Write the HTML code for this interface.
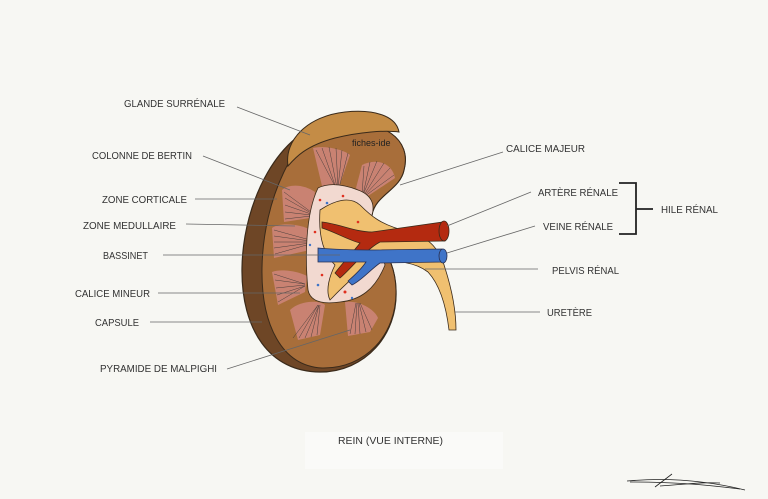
<!DOCTYPE html>
<html><head><meta charset="utf-8"><style>
html,body{margin:0;padding:0;background:#f7f7f3;}
svg{display:block}
text{font-family:"Liberation Sans Narrow","Liberation Sans",sans-serif;font-size:10.5px;fill:#333;}
</style></head><body>
<svg width="768" height="499" viewBox="0 0 768 499" xmlns="http://www.w3.org/2000/svg">
<rect width="768" height="499" fill="#f7f7f3"/>
<rect x="305" y="432" width="198" height="37" fill="#fafaf8"/>
<!-- kidney shadow -->
<path d="M330 122 C280 130 243 200 242 268 C241 330 270 372 320 372 C365 372 398 335 396 290 C395 250 370 240 372 215 C375 195 400 190 404 170 C412 140 385 118 330 122 Z" fill="#6e4626" stroke="#3a2a1a" stroke-width="1.2"/>
<!-- kidney front -->
<path d="M333 123 C295 130 263 200 262 268 C261 325 282 366 322 368 C365 369 397 335 396 290 C395 250 370 240 372 215 C375 195 400 190 404 170 C412 140 385 118 333 123 Z" fill="#a86e3a" stroke="#3a2a1a" stroke-width="1"/>
<!-- adrenal -->
<path d="M288 166 C284 140 308 116 345 112 C375 109 396 116 399 132 C385 130 360 132 335 138 C305 146 295 158 288 166 Z" fill="#c48c46" stroke="#3a2a1a" stroke-width="1"/>
<text x="352" y="146" style="font-size:9px;fill:#222">fiches-ide</text>
<!-- pyramids -->
<g fill="#c98272">
<path d="M313 148 C325 145 345 150 350 155 L338 190 L322 186 Z"/>
<path d="M362 165 C375 158 392 162 395 178 L365 198 L356 188 Z"/>
<path d="M282 190 C290 183 305 185 315 192 L310 218 L284 222 Z"/>
<path d="M272 228 C280 222 300 224 311 230 L310 250 L274 258 Z"/>
<path d="M272 272 C282 268 300 272 307 276 L305 292 L278 305 Z"/>
<path d="M290 310 C300 300 320 300 325 305 L320 335 L298 340 Z"/>
<path d="M345 302 C360 300 375 310 378 318 L370 332 L348 336 Z"/>
</g>
<g stroke="#333" stroke-width="0.5" fill="none" opacity="0.85">
<path d="M316 150 L336 188 M322 148 L336 188 M329 147 L337 188 M336 148 L338 188 M342 150 L338 188 M348 153 L339 188"/>
<path d="M364 166 L362 195 M370 162 L363 195 M377 161 L363 195 M384 163 L364 195 M390 168 L364 196 M394 175 L365 196"/>
<path d="M284 192 L311 212 M285 198 L311 213 M285 205 L311 214 M285 212 L311 215 M285 219 L311 216"/>
<path d="M274 230 L310 240 M274 236 L310 241 M274 242 L310 242 M274 248 L310 243 M275 254 L310 244"/>
<path d="M274 274 L305 284 M275 280 L305 284 M276 288 L305 285 M277 295 L305 286 M278 302 L305 286"/>
<path d="M293 338 L318 305 M299 338 L318 305 M305 338 L319 305 M311 337 L319 305 M317 335 L320 305"/>
<path d="M350 334 L356 303 M355 334 L357 303 M360 334 L358 303 M366 332 L359 303 M372 330 L360 303"/>
</g>
<!-- sinus -->
<path d="M318 188 C330 182 345 185 358 190 C372 195 375 205 372 215 C370 232 380 245 385 265 C375 290 360 300 340 302 C320 305 310 300 308 290 C305 260 305 215 318 188 Z" fill="#f2d9d0" stroke="#3a2a1a" stroke-width="0.8"/>
<!-- pelvis / ureter -->
<path d="M320 210 C335 200 350 196 360 205 C370 215 380 225 410 232 C430 238 440 250 445 268 C452 290 456 310 456 330 L449 330 C446 305 440 285 428 272 C415 262 395 260 380 262 C360 268 340 290 330 300 C325 290 330 275 335 265 C325 255 318 240 320 210 Z" fill="#f0c070" stroke="#3a2a1a" stroke-width="0.8"/>
<!-- artery -->
<path d="M322 222 C340 224 355 232 372 232 L443 222 L445 241 L380 242 C365 250 350 270 340 278 L335 273 C345 260 355 250 360 243 C348 240 335 232 322 228 Z" fill="#b42a10" stroke="#3a2a1a" stroke-width="0.8"/>
<ellipse cx="444" cy="231" rx="5" ry="10" fill="#b42a10" stroke="#3a2a1a" stroke-width="0.8"/>
<!-- vein -->
<path d="M318 248 C340 250 360 250 375 250 L442 249 L444 262 L380 263 C370 270 362 280 352 285 L348 281 C355 275 362 268 366 262 L318 262 Z" fill="#3f74c8" stroke="#2a3050" stroke-width="0.8"/>
<ellipse cx="443" cy="256" rx="4" ry="7" fill="#3f74c8" stroke="#2a3050" stroke-width="0.8"/>
<g fill="#e03020"><circle cx="320" cy="200" r="1.3"/><circle cx="343" cy="196" r="1.3"/><circle cx="315" cy="232" r="1.3"/><circle cx="322" cy="275" r="1.3"/><circle cx="345" cy="292" r="1.5"/><circle cx="358" cy="222" r="1.3"/></g>
<g fill="#3f74c8"><circle cx="327" cy="203" r="1.3"/><circle cx="310" cy="245" r="1.2"/><circle cx="318" cy="285" r="1.3"/><circle cx="352" cy="298" r="1.2"/></g>
<!-- leader lines -->
<g stroke="#666" stroke-width="0.8" fill="none">
<line x1="237" y1="107" x2="310" y2="135"/>
<line x1="203" y1="156" x2="290" y2="190"/>
<line x1="195" y1="199" x2="277" y2="199"/>
<line x1="186" y1="224" x2="295" y2="226"/>
<line x1="163" y1="255" x2="340" y2="255"/>
<line x1="158" y1="293" x2="300" y2="293"/>
<line x1="150" y1="322" x2="262" y2="322"/>
<line x1="227" y1="369" x2="350" y2="330"/>
<line x1="503" y1="152" x2="400" y2="185"/>
<line x1="531" y1="192" x2="447" y2="226"/>
<line x1="535" y1="226" x2="447" y2="253"/>
<line x1="425" y1="269" x2="538" y2="269"/>
<line x1="455" y1="312" x2="540" y2="312"/>
</g>
<!-- labels -->
<text x="124" y="107" textLength="101" lengthAdjust="spacingAndGlyphs">GLANDE SURRÉNALE</text>
<text x="92" y="159" textLength="100" lengthAdjust="spacingAndGlyphs">COLONNE DE BERTIN</text>
<text x="102" y="203" textLength="85" lengthAdjust="spacingAndGlyphs">ZONE CORTICALE</text>
<text x="83" y="229" textLength="93" lengthAdjust="spacingAndGlyphs">ZONE MEDULLAIRE</text>
<text x="103" y="259" textLength="45" lengthAdjust="spacingAndGlyphs">BASSINET</text>
<text x="75" y="297" textLength="75" lengthAdjust="spacingAndGlyphs">CALICE MINEUR</text>
<text x="95" y="326" textLength="44" lengthAdjust="spacingAndGlyphs">CAPSULE</text>
<text x="100" y="372" textLength="117" lengthAdjust="spacingAndGlyphs">PYRAMIDE DE MALPIGHI</text>
<text x="506" y="152" textLength="79" lengthAdjust="spacingAndGlyphs">CALICE MAJEUR</text>
<text x="538" y="196" textLength="80" lengthAdjust="spacingAndGlyphs">ARTÈRE RÉNALE</text>
<text x="543" y="230" textLength="70" lengthAdjust="spacingAndGlyphs">VEINE RÉNALE</text>
<text x="661" y="213" textLength="57" lengthAdjust="spacingAndGlyphs">HILE RÉNAL</text>
<text x="552" y="274" textLength="67" lengthAdjust="spacingAndGlyphs">PELVIS RÉNAL</text>
<text x="547" y="316" textLength="45" lengthAdjust="spacingAndGlyphs">URETÈRE</text>
<text x="338" y="444" textLength="105" lengthAdjust="spacingAndGlyphs">REIN (VUE INTERNE)</text>
<path d="M619 183 L636 183 L636 234 L619 234 M636 209 L653 209" stroke="#222" stroke-width="1.8" fill="none"/>
<!-- signature -->
<g stroke="#222" stroke-width="0.8" fill="none">
<path d="M627 481 C660 478 700 479 745 490"/>
<path d="M630 482 C670 482 700 484 740 489"/>
<path d="M655 487 L672 474 M660 486 C690 484 700 482 720 483"/>
</g>
</svg>
</body></html>
